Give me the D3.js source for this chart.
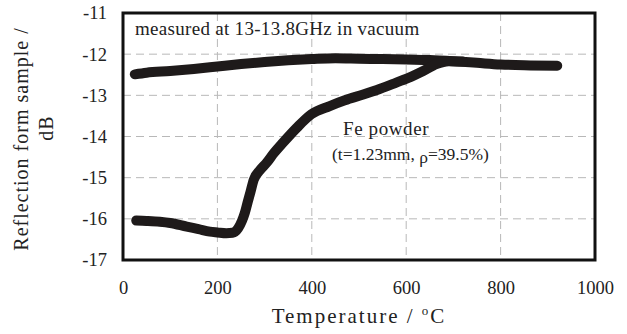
<!DOCTYPE html>
<html>
<head>
<meta charset="utf-8">
<script src="https://cdn.jsdelivr.net/npm/d3@7"></script>
<style>
  body { margin: 0; background: #fff; }
  text { font-family: "Liberation Serif", "Times New Roman", serif; fill: #222; }
</style>
</head>
<body>
<div id="chart"></div>
<script>
// Heating run (lower curve, rises near 250 °C)
const heatTemp = [28, 50, 78, 100, 135, 160, 184, 200, 219, 232, 244, 252, 258, 264, 270, 277, 290, 304, 320, 339, 368, 399, 438, 470, 509, 545, 579, 610, 636, 664, 690, 720];
const heatDb = [-16.04, -16.05, -16.07, -16.1, -16.19, -16.25, -16.31, -16.33, -16.35, -16.34, -16.23, -16.05, -15.86, -15.6, -15.35, -15.05, -14.82, -14.64, -14.4, -14.15, -13.79, -13.46, -13.26, -13.12, -12.98, -12.84, -12.69, -12.55, -12.41, -12.24, -12.17, -12.18];

// Cooling run (upper curve)
const coolTemp = [25, 50, 100, 150, 200, 250, 300, 350, 400, 450, 500, 550, 600, 650, 700, 750, 800, 850, 920];
const coolDb = [-12.49, -12.45, -12.41, -12.36, -12.30, -12.24, -12.19, -12.15, -12.12, -12.10, -12.11, -12.12, -12.13, -12.14, -12.17, -12.21, -12.25, -12.27, -12.28];

const xTicks = [0, 200, 400, 600, 800, 1000];
const yTicks = [-11, -12, -13, -14, -15, -16, -17];

// Set up dimensions
const W = 627, H = 334;
const margin = { top: 13, right: 32, bottom: 74, left: 123 };
const width = W - margin.left - margin.right;
const height = H - margin.top - margin.bottom;

const svg = d3.select('#chart')
  .append('svg')
  .attr('width', W)
  .attr('height', H);

const g = svg.append('g')
  .attr('transform', `translate(${margin.left},${margin.top})`);

// Scales
const x = d3.scaleLinear().domain([0, 1000]).range([0, width]);
const y = d3.scaleLinear().domain([-17, -11]).range([height, 0]);

// Dashed grid
g.append('g')
  .selectAll('line')
  .data(xTicks.slice(1, -1))
  .enter()
  .append('line')
  .attr('x1', d => x(d)).attr('x2', d => x(d))
  .attr('y1', 0).attr('y2', height)
  .attr('stroke', '#b8b8b8')
  .attr('stroke-width', 1)
  .attr('stroke-dasharray', '8,5');

g.append('g')
  .selectAll('line')
  .data(yTicks.slice(1, -1))
  .enter()
  .append('line')
  .attr('x1', 0).attr('x2', width)
  .attr('y1', d => y(d)).attr('y2', d => y(d))
  .attr('stroke', '#b8b8b8')
  .attr('stroke-width', 1)
  .attr('stroke-dasharray', '8,5');

// Axes (labels only, frame drawn separately)
const xAxis = g.append('g')
  .attr('transform', `translate(0,${height})`)
  .call(d3.axisBottom(x).tickValues(xTicks).tickSize(0).tickPadding(21).tickFormat(d3.format('d')));
const yAxis = g.append('g')
  .call(d3.axisLeft(y).tickValues(yTicks).tickSize(0).tickPadding(16).tickFormat(d => d3.format('d')(d).replace('−', '-')));

[xAxis, yAxis].forEach(a => {
  a.select('.domain').remove();
  a.selectAll('text')
    .style('font-family', '"Liberation Serif", serif')
    .style('font-size', '18.5px')
    .attr('fill', '#222');
});

// Curves
const line = d3.line()
  .x(d => x(d[0]))
  .y(d => y(d[1]))
  .curve(d3.curveMonotoneX);

const series = [
  d3.zip(coolTemp, coolDb),
  d3.zip(heatTemp, heatDb)
];

g.selectAll('.curve')
  .data(series)
  .enter()
  .append('path')
  .attr('class', 'curve')
  .attr('d', line)
  .attr('fill', 'none')
  .attr('stroke', '#1e1a1a')
  .attr('stroke-width', 10)
  .attr('stroke-linecap', 'round')
  .attr('stroke-linejoin', 'round');

// Frame
g.append('rect')
  .attr('width', width)
  .attr('height', height)
  .attr('fill', 'none')
  .attr('stroke', '#111')
  .attr('stroke-width', 3);

// Annotations
g.append('text')
  .attr('x', 12).attr('y', 22)
  .style('font-size', '19px')
  .style('letter-spacing', '0.3px')
  .text('measured at 13-13.8GHz in vacuum');

g.append('text')
  .attr('x', 220).attr('y', 122)
  .style('font-size', '19px')
  .style('letter-spacing', '0.6px')
  .text('Fe powder');

const sub = g.append('text')
  .attr('x', 209).attr('y', 147)
  .style('font-size', '17.5px');
sub.append('tspan').text('(t=1.23mm, ');
sub.append('tspan').attr('dy', 3).text('\u03c1');
sub.append('tspan').attr('dy', -3).text('=39.5%)');

// Axis titles
const xt = svg.append('text')
  .attr('x', 359).attr('y', 323)
  .attr('text-anchor', 'middle')
  .style('font-size', '21px')
  .style('letter-spacing', '2px');
xt.append('tspan').text('Temperature  /  ');
xt.append('tspan').attr('dy', -8).style('font-size', '13px').text('o');
xt.append('tspan').attr('dy', 8).text('C');

svg.append('text')
  .attr('transform', 'translate(28,139) rotate(-90)')
  .attr('text-anchor', 'middle')
  .style('font-size', '20px')
  .style('letter-spacing', '1px')
  .text('Reflection form sample  /');

svg.append('text')
  .attr('transform', 'translate(53,128) rotate(-90)')
  .attr('text-anchor', 'middle')
  .style('font-size', '20px')
  .style('letter-spacing', '1px')
  .text('dB');
</script>
</body>
</html>
